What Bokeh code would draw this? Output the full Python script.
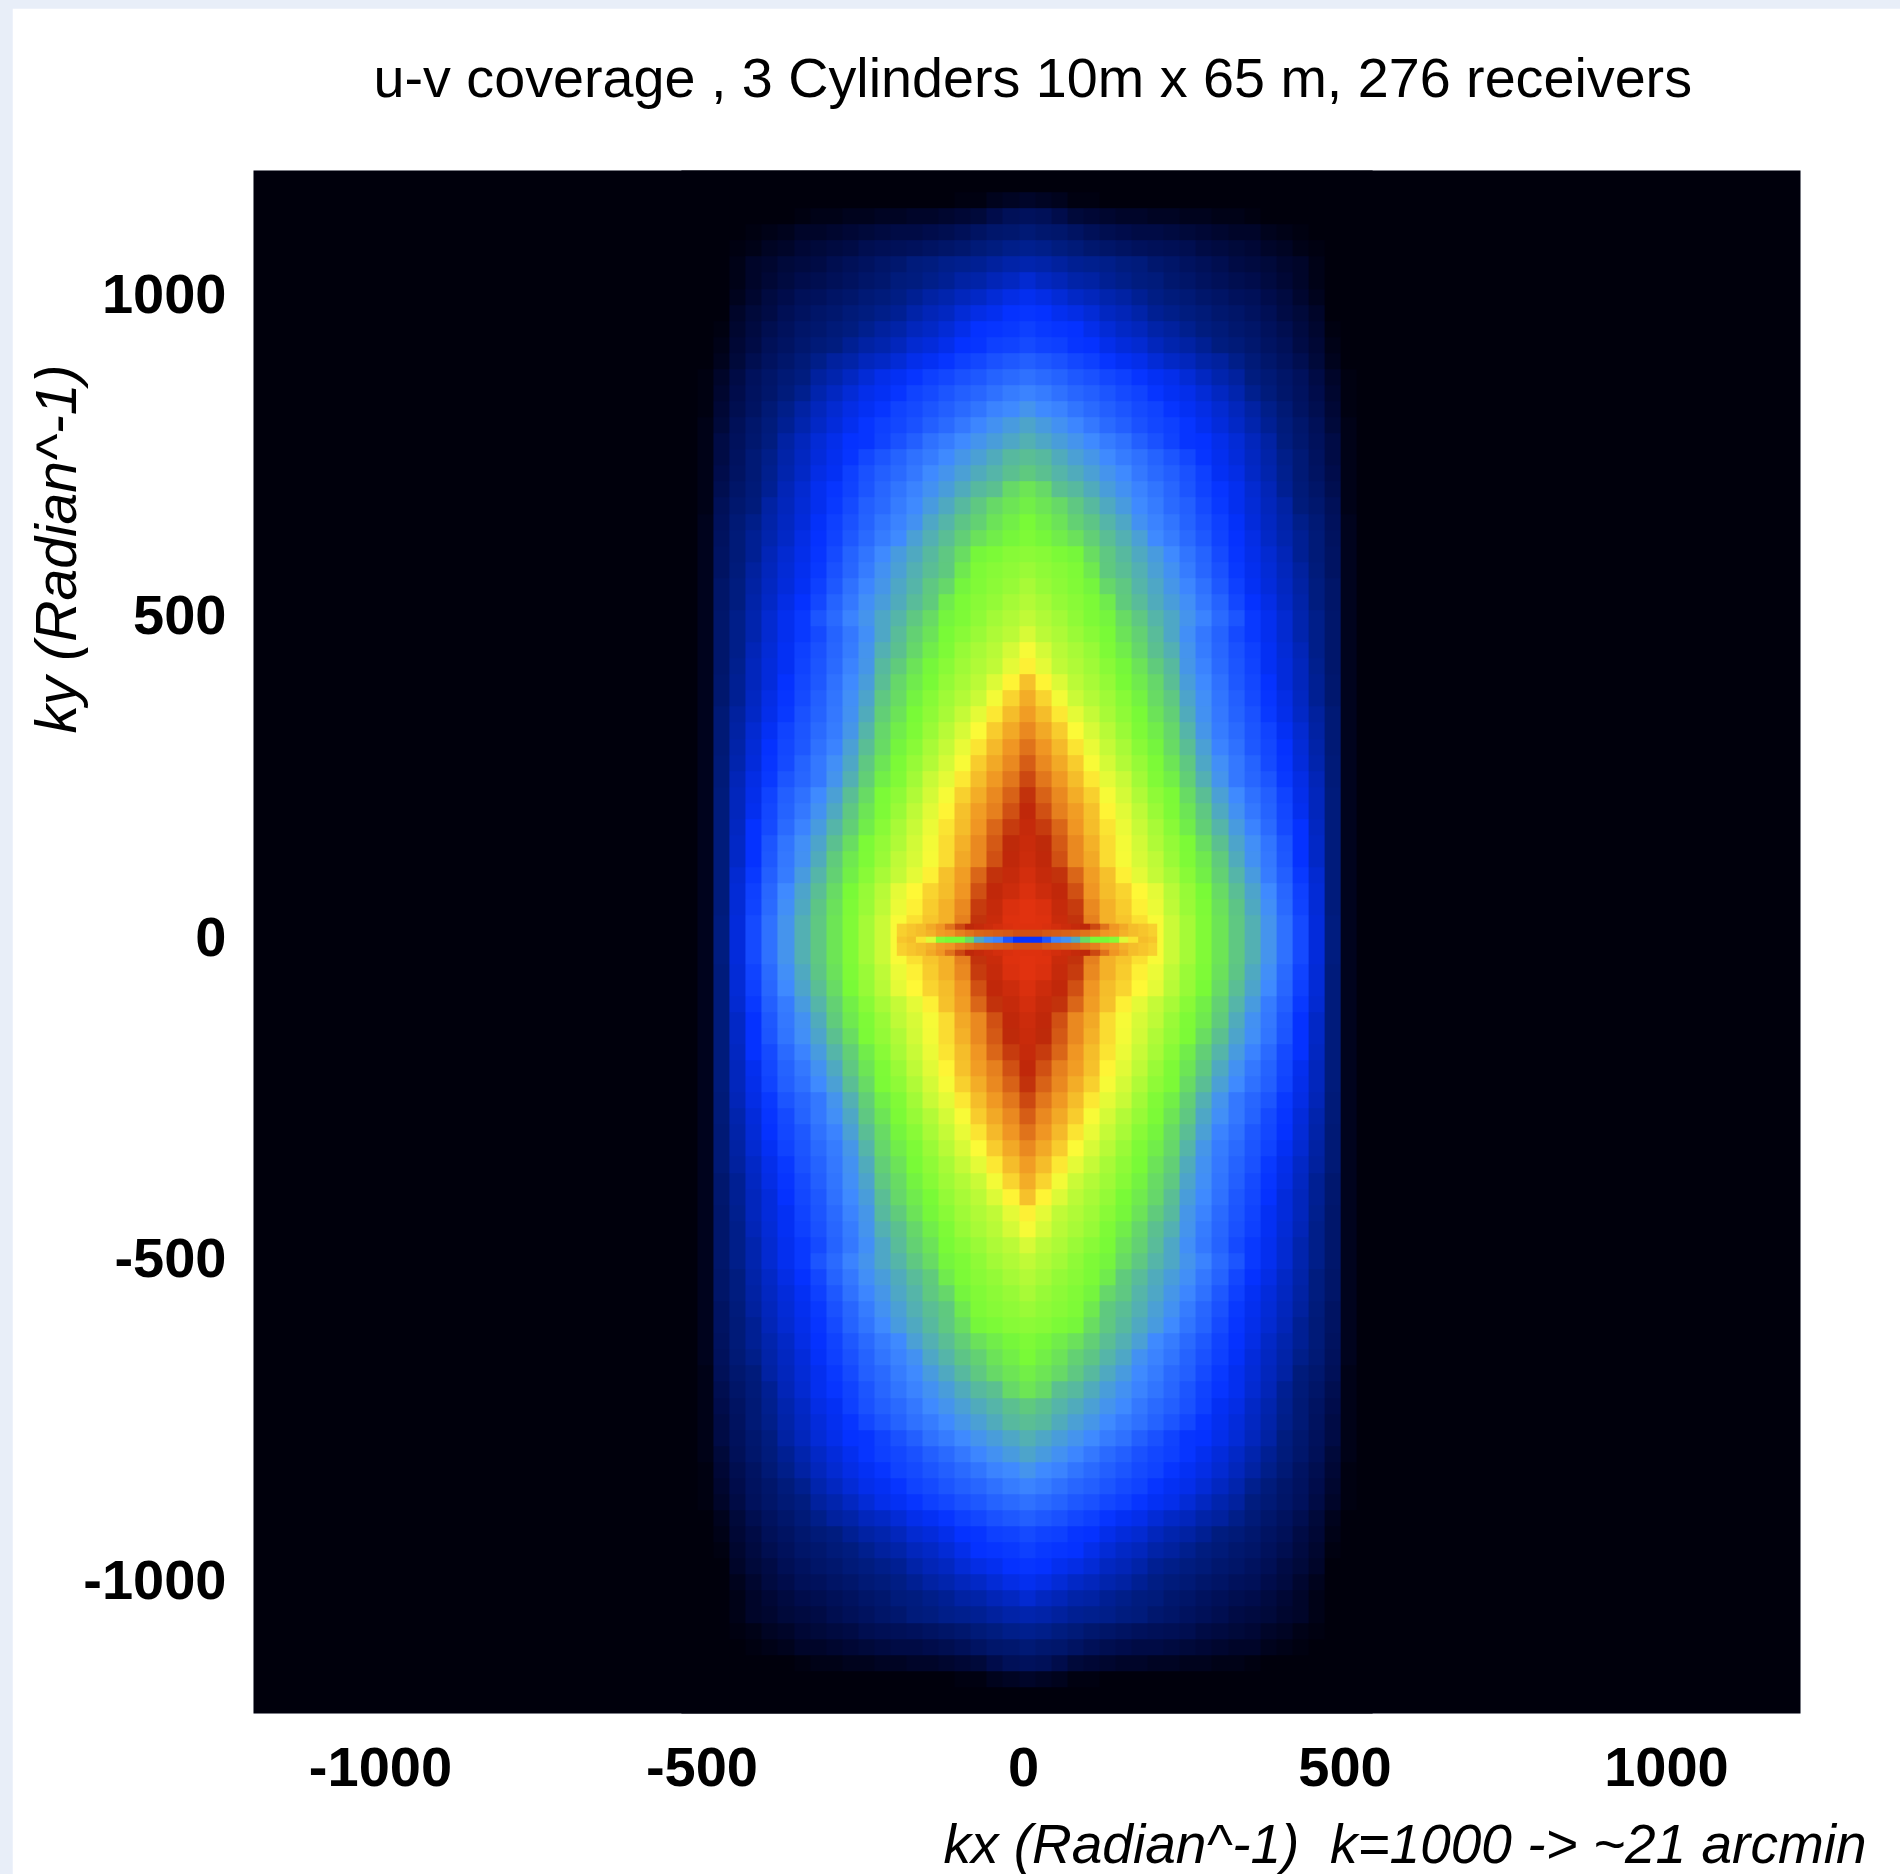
import numpy as np
from bokeh.plotting import figure
from bokeh.embed import file_html
from bokeh.resources import INLINE
from bokeh.models import LinearColorMapper, FixedTicker, Title

TITLE = "u-v coverage , 3 Cylinders 10m x 65 m, 276 receivers"
X_LABEL = "kx (Radian^-1)\u00a0 k=1000 -> ~21 arcmin"
Y_LABEL = "ky (Radian^-1)"
TICKS = [-1000, -500, 0, 500, 1000]
TICK_TEXT = {-1000: "-1000", -500: "-500", 0: "0", 500: "500", 1000: "1000"}

# coverage level: rows ky = 0,25,...,1200, columns kx = 0,25,...,525
KX_STEP = 25
KY_STEP = 25
IMAGE_CENTRE_X = 5.5
IMAGE_CENTRE_Y = -4.5
LEVELS = [
 [10,9.9,9.3,8.9,8.2,7.7,7.5,7.25,6.9,6.2,5.65,5.15,4.6,4.0,3.6,3.15,2.7,2.3,1.75,1.05,0.15,0],
 [10,9.9,9.3,8.9,8.2,7.7,7.5,7.25,6.9,6.2,5.65,5.15,4.6,4.0,3.6,3.15,2.7,2.3,1.75,1.05,0.15,0],
 [10,9.8,9.2,8.8,8.1,7.7,7.45,7.1,6.7,6.0,5.5,5.1,4.5,3.95,3.5,3.05,2.65,2.2,1.7,1.0,0.15,0],
 [9.8,9.4,9.1,8.6,8.0,7.6,7.35,7.0,6.6,5.9,5.45,5.0,4.4,3.85,3.4,3.0,2.6,2.15,1.7,1.0,0.15,0],
 [9.6,9.2,8.9,8.4,7.9,7.55,7.1,6.6,6.1,5.7,5.25,4.8,4.2,3.7,3.25,2.85,2.5,2.1,1.65,1.0,0.15,0],
 [9.4,9.05,8.6,8.1,7.8,7.3,6.85,6.4,6.0,5.5,5.1,4.65,4.1,3.55,3.1,2.8,2.45,2.0,1.6,1.0,0.15,0],
 [9.3,8.95,8.55,8.1,7.7,7.3,6.8,6.3,5.8,5.4,5.05,4.45,3.9,3.4,3.05,2.75,2.4,2.0,1.6,1.0,0.15,0],
 [9.2,8.8,8.4,8.0,7.6,7.2,6.7,6.15,5.7,5.25,4.75,4.15,3.7,3.25,2.9,2.65,2.3,2.0,1.55,1.0,0.15,0],
 [9.05,8.6,8.2,7.9,7.55,7.05,6.55,6.0,5.5,5.1,4.6,4.0,3.5,3.1,2.8,2.55,2.25,1.9,1.5,1.0,0.15,0],
 [8.9,8.45,8.1,7.75,7.4,6.85,6.35,5.8,5.35,5.05,4.4,3.85,3.35,3.0,2.7,2.5,2.2,1.85,1.5,1.0,0.15,0],
 [8.7,8.25,7.95,7.6,7.15,6.6,6.15,5.6,5.15,4.8,4.15,3.6,3.15,2.8,2.6,2.4,2.1,1.8,1.45,0.95,0.15,0],
 [8.5,8.1,7.8,7.45,6.9,6.35,5.85,5.45,5.05,4.6,4.0,3.45,3.05,2.8,2.55,2.3,2.05,1.75,1.4,0.95,0.15,0],
 [8.3,8.0,7.65,7.2,6.65,6.1,5.7,5.25,4.9,4.4,3.85,3.35,2.9,2.7,2.45,2.25,2.0,1.7,1.35,0.9,0.15,0],
 [8.1,7.8,7.45,6.95,6.4,5.9,5.5,5.1,4.75,4.3,3.7,3.2,2.85,2.65,2.4,2.2,1.95,1.65,1.3,0.9,0.15,0],
 [7.9,7.6,7.15,6.6,6.1,5.7,5.35,5.0,4.55,4.15,3.55,3.1,2.8,2.55,2.35,2.1,1.85,1.6,1.25,0.9,0.15,0],
 [7.75,7.35,6.8,6.2,5.85,5.55,5.2,4.85,4.4,4.0,3.4,3.05,2.75,2.5,2.3,2.05,1.8,1.55,1.2,0.85,0.15,0],
 [7.55,7.05,6.45,5.95,5.7,5.4,5.0,4.7,4.3,3.85,3.3,3.0,2.7,2.45,2.25,2.0,1.75,1.5,1.2,0.85,0.15,0],
 [7.1,6.6,6.05,5.8,5.55,5.25,4.95,4.55,4.1,3.75,3.2,2.9,2.65,2.4,2.2,1.95,1.75,1.5,1.15,0.8,0.15,0],
 [6.85,6.35,5.9,5.7,5.45,5.1,4.75,4.3,3.9,3.6,3.15,2.85,2.6,2.35,2.15,1.95,1.7,1.45,1.1,0.8,0.15,0],
 [6.4,5.95,5.75,5.5,5.25,5.0,4.55,4.2,3.8,3.45,3.05,2.8,2.55,2.3,2.1,1.9,1.65,1.4,1.1,0.8,0.15,0],
 [6.05,5.8,5.6,5.35,5.1,4.9,4.4,4.0,3.7,3.45,3.15,2.9,2.65,2.4,2.1,1.9,1.65,1.4,1.1,0.8,0.15,0],
 [5.85,5.65,5.4,5.25,5.05,4.7,4.1,3.8,3.55,3.3,3.05,2.8,2.55,2.25,2.0,1.8,1.6,1.35,1.05,0.75,0.15,0],
 [5.7,5.45,5.3,5.15,4.9,4.3,4.0,3.7,3.45,3.2,2.95,2.7,2.45,2.15,1.95,1.75,1.55,1.3,1.05,0.75,0.15,0],
 [5.5,5.35,5.2,5.1,4.65,4.05,3.85,3.6,3.35,3.1,2.85,2.6,2.35,2.1,1.9,1.7,1.5,1.25,1.0,0.7,0.15,0],
 [5.3,5.2,5.05,4.95,4.45,4.0,3.75,3.5,3.25,3.0,2.75,2.55,2.3,2.05,1.85,1.65,1.45,1.2,0.95,0.7,0.15,0],
 [5.1,4.95,4.75,4.5,4.15,3.85,3.6,3.35,3.0,2.85,2.65,2.45,2.2,2.0,1.8,1.6,1.4,1.2,0.95,0.65,0.12,0],
 [5.0,4.8,4.55,4.2,3.95,3.7,3.45,3.1,2.9,2.75,2.55,2.35,2.15,1.97,1.75,1.55,1.35,1.1,0.9,0.6,0.12,0],
 [4.8,4.6,4.35,4.0,3.75,3.5,3.25,3.0,2.85,2.65,2.5,2.3,2.1,1.9,1.7,1.5,1.3,1.0,0.85,0.55,0.1,0],
 [4.6,4.35,3.9,3.75,3.55,3.3,3.1,2.9,2.75,2.6,2.4,2.2,2.05,1.9,1.65,1.45,1.2,0.97,0.75,0.5,0.1,0],
 [4.05,3.9,3.7,3.55,3.35,3.15,3.0,2.8,2.65,2.5,2.35,2.15,1.95,1.8,1.6,1.4,1.15,0.9,0.7,0.45,0.1,0],
 [3.85,3.75,3.55,3.35,3.2,3.0,2.85,2.7,2.55,2.4,2.25,2.05,1.9,1.75,1.55,1.35,1.1,0.9,0.65,0.4,0.1,0],
 [3.6,3.45,3.3,3.15,3.0,2.85,2.7,2.5,2.35,2.2,2.05,2.0,1.85,1.7,1.5,1.3,1.05,0.85,0.6,0.4,0.08,0],
 [3.4,3.25,3.1,2.95,2.8,2.65,2.5,2.35,2.25,2.15,2.05,1.9,1.75,1.6,1.4,1.2,1.0,0.8,0.55,0.35,0.08,0],
 [3.15,3.0,2.9,2.75,2.65,2.5,2.4,2.3,2.2,2.05,1.95,1.8,1.65,1.5,1.3,1.1,0.9,0.7,0.5,0.3,0.06,0],
 [2.9,2.85,2.7,2.6,2.5,2.4,2.3,2.2,2.05,1.95,1.85,1.7,1.55,1.4,1.15,1.0,0.8,0.65,0.45,0.25,0.05,0],
 [2.7,2.65,2.55,2.45,2.35,2.25,2.15,2.05,1.95,1.85,1.7,1.55,1.4,1.25,1.05,0.9,0.75,0.6,0.4,0.2,0.04,0],
 [2.5,2.45,2.35,2.25,2.15,2.05,1.95,1.85,1.7,1.6,1.5,1.35,1.25,1.1,0.95,0.8,0.65,0.5,0.35,0.15,0.02,0],
 [2.3,2.2,2.15,2.05,2.0,1.85,1.75,1.65,1.5,1.4,1.3,1.2,1.05,0.95,0.85,0.7,0.55,0.42,0.3,0.1,0,0],
 [2.15,2.1,2.05,2.0,1.85,1.7,1.6,1.5,1.35,1.25,1.15,1.05,0.97,0.85,0.75,0.6,0.48,0.38,0.25,0.05,0,0],
 [2.05,2.0,1.9,1.8,1.7,1.55,1.45,1.35,1.2,1.1,1.02,0.95,0.85,0.75,0.65,0.52,0.42,0.32,0.2,0.02,0,0],
 [1.9,1.8,1.7,1.6,1.5,1.4,1.3,1.2,1.08,0.98,0.9,0.82,0.72,0.62,0.55,0.45,0.36,0.26,0.15,0,0,0],
 [1.65,1.55,1.45,1.35,1.3,1.2,1.12,1.05,0.98,0.85,0.75,0.65,0.58,0.5,0.45,0.36,0.28,0.2,0.1,0,0,0],
 [1.4,1.35,1.25,1.2,1.15,1.1,1.05,1.0,0.85,0.75,0.65,0.55,0.47,0.42,0.38,0.33,0.27,0.2,0.1,0.02,0,0],
 [1.15,1.1,1.05,0.95,0.85,0.75,0.68,0.62,0.57,0.52,0.47,0.42,0.38,0.33,0.28,0.22,0.17,0.1,0.04,0,0,0],
 [0.9,0.85,0.8,0.7,0.55,0.5,0.45,0.42,0.4,0.37,0.33,0.3,0.27,0.23,0.2,0.15,0.1,0.05,0,0,0,0],
 [0.6,0.55,0.45,0.35,0.28,0.25,0.22,0.2,0.18,0.16,0.14,0.12,0.1,0.08,0.05,0.03,0.01,0,0,0,0,0],
 [0.2,0.18,0.12,0.05,0.04,0.03,0.02,0,0,0,0,0,0,0,0,0,0,0,0,0,0,0],
 [0,0,0,0,0,0,0,0,0,0,0,0,0,0,0,0,0,0,0,0,0,0],
 [0,0,0,0,0,0,0,0,0,0,0,0,0,0,0,0,0,0,0,0,0,0],
]

# thin strip around ky = 0: rows from bottom to top, columns kx = 0,15,...,195
STRIP_KX_STEP = 15
STRIP_KY_STEP = 10
STRIP_CENTRE = [2.0,2.0,2.4,2.9,3.1,3.5,4.4,5.0,5.0,5.2,6.5,7.2,7.6,7.5]
STRIP_BAND = [8.6,8.6,8.55,8.5,8.45,8.4,8.3,8.2,8.0,7.9,7.7,7.6,7.5,7.4]
STRIP_OUTER = [9.9,9.9,9.8,9.6,9.4,9.2,9.0,8.7,8.3,8.0,7.8,7.6,7.5,7.4]

# colour stops for the levels
STOP_LEVELS = [0,0.25,0.5,1,2,3,4,5,6,7,8,9,10]
STOP_R = [0,0,0,0,5,65,95,120,190,255,240,190,225]
STOP_G = [0,7,15,28,50,140,200,250,250,250,150,40,50]
STOP_B = [12,50,85,125,255,255,130,55,55,55,35,10,15]

lv = np.linspace(0, 10, 256)
palette = ["#%02x%02x%02x" % (int(np.interp(v, STOP_LEVELS, STOP_R)),
                              int(np.interp(v, STOP_LEVELS, STOP_G)),
                              int(np.interp(v, STOP_LEVELS, STOP_B))) for v in lv]
mapper = LinearColorMapper(palette=palette, low=0, high=10)

quad = np.array(LEVELS, dtype=float)
half = np.hstack([quad[:, :0:-1], quad])
full = np.vstack([half[:0:-1], half])

p = figure(width=1888, height=1866, x_range=(-1197.5, 1208.5), y_range=(-1208, 1192),
           output_backend="svg", toolbar_location=None,
           min_border_left=241, min_border_right=100, min_border_top=162, min_border_bottom=160,
           background_fill_color="#00000c", border_fill_color="white")
p.grid.visible = False
p.outline_line_color = None

nx = full.shape[1]; ny = full.shape[0]
p.image(image=[full], x=IMAGE_CENTRE_X - nx * KX_STEP / 2, y=IMAGE_CENTRE_Y - ny * KY_STEP / 2,
        dw=nx * KX_STEP, dh=ny * KY_STEP, color_mapper=mapper)

strip = np.array([STRIP_OUTER, STRIP_BAND, STRIP_CENTRE, STRIP_BAND, STRIP_OUTER], dtype=float)
s_half = np.hstack([strip[:, :0:-1], strip])
snx, sny = s_half.shape[1], s_half.shape[0]
p.image(image=[s_half], x=IMAGE_CENTRE_X - snx * STRIP_KX_STEP / 2, y=IMAGE_CENTRE_Y - sny * STRIP_KY_STEP / 2,
        dw=snx * STRIP_KX_STEP, dh=sny * STRIP_KY_STEP, color_mapper=mapper)

for ax in (p.xaxis[0], p.yaxis[0]):
    ax.ticker = FixedTicker(ticks=TICKS)
    ax.major_label_overrides = TICK_TEXT
    ax.axis_line_color = None
    ax.major_tick_line_color = None
    ax.minor_tick_line_color = None
    ax.major_label_text_font = "Liberation Sans"
    ax.major_label_text_font_style = "bold"
    ax.major_label_text_font_size = "56px"
    ax.major_label_text_color = "black"
p.xaxis[0].major_label_standoff = 28
p.yaxis[0].major_label_standoff = 21
p.yaxis[0].major_label_orientation = "horizontal"

p.title.text = TITLE
p.title.align = "left"
p.title.offset = 120
p.title.text_font = "Liberation Sans"
p.title.text_font_style = "normal"
p.title.text_font_size = "55.7px"
p.title.text_color = "black"
p.title.standoff = 0

# spacers that hold the title and the x label away from the frame
p.add_layout(Title(text=" ", text_font_size="1px", standoff=59), "above")
p.add_layout(Title(text=" ", text_font_size="1px", standoff=19), "below")

p.add_layout(Title(text=X_LABEL, align="right", offset=-66, standoff=0,
                   text_font="Liberation Sans",
                   text_font_style="italic", text_font_size="55px", text_color="black"), "below")
p.add_layout(Title(text=Y_LABEL, align="left", offset=980, standoff=-14, text_font="Liberation Sans",
                   text_font_style="italic", text_font_size="57px", text_color="black"), "left")

html = file_html(p, INLINE)
html = html.replace("</head>", "<style>html{background:#e8eef8 !important}body{margin:8px 0 0 12px !important;background:#e8eef8 !important;overflow:hidden}</style></head>", 1)
open("out.html", "w").write(html)
